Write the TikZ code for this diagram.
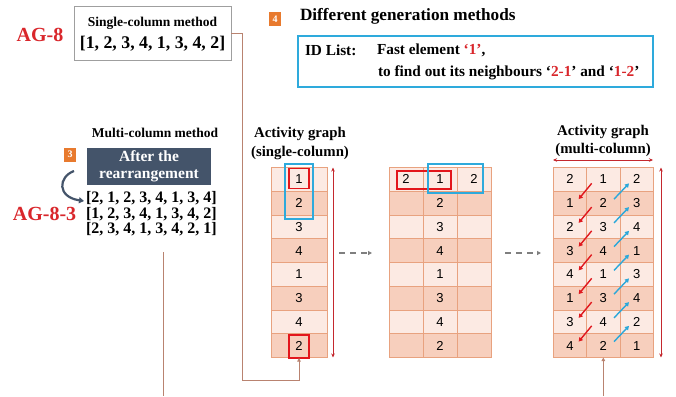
\documentclass[tikz,border=0pt]{standalone}
\usepackage{fontspec}
\setmainfont{Liberation Serif}
\newfontfamily\numfont{Liberation Sans}
\usetikzlibrary{arrows.meta,calc}
\definecolor{agred}{HTML}{D9262B}
\definecolor{lightrow}{HTML}{FCEAE3}
\definecolor{darkrow}{HTML}{F7CFBD}
\definecolor{cellborder}{HTML}{E8A27F}
\definecolor{boxred}{HTML}{E3161C}
\definecolor{boxcyan}{HTML}{2EAADC}
\definecolor{brownline}{HTML}{B98370}
\definecolor{slate}{HTML}{44546A}
\definecolor{badge}{HTML}{E87A2E}
\definecolor{dashgray}{HTML}{7F7F7F}
\definecolor{rarrow}{HTML}{E0191F}
\definecolor{carrow}{HTML}{2AA8DA}
\definecolor{dblred}{HTML}{C4282E}
\begin{document}
\begin{tikzpicture}[x=1pt,y=-1pt,
  every node/.style={inner sep=0pt, outer sep=0pt},
  cell/.style={draw=cellborder, line width=0.6pt, minimum width=#1, minimum height=23.75pt,
    font=\numfont\fontsize{13}{13}\selectfont},
  numtext/.style={font=\numfont\fontsize{13}{13}\selectfont},
  aglabel/.style={text=agred, font=\bfseries\fontsize{20}{20}\selectfont},
  listtext/.style={font=\bfseries\fontsize{16}{16}\selectfont, anchor=west},
  smalltitle/.style={font=\bfseries\fontsize{13.5}{13.5}\selectfont},
  graphtitle/.style={font=\bfseries\fontsize{14.8}{19}\selectfont, align=center},
  badgebox/.style={fill=badge, text=white, font=\bfseries\fontsize{10}{10}\selectfont, minimum width=12pt, minimum height=14pt},
  redbox/.style={draw=boxred, line width=1.5pt},
  cyanbox/.style={draw=boxcyan, line width=1.5pt},
  brown/.style={draw=brownline, line width=0.8pt},
  dasharrow/.style={draw=dashgray, line width=1.2pt, dash pattern=on 6pt off 5pt, -{Triangle[length=4pt,width=4pt]}},
  dblarrow/.style={draw=dblred, line width=0.8pt, {Stealth[length=4pt,width=3.5pt]}-{Stealth[length=4pt,width=3.5pt]}},
  redarrow/.style={draw=rarrow, line width=1.4pt, -{Triangle[length=4pt,width=4.5pt]}},
  cyanarrow/.style={draw=carrow, line width=1.4pt, -{Triangle[length=4pt,width=4.5pt]}},
  idtext/.style={font=\bfseries\fontsize{15.3}{15.3}\selectfont, anchor=west}
]
\useasboundingbox (0,0) rectangle (676,396);
\fill[white] (0,0) rectangle (676,396);

% ---------- AG-8 single-column box ----------
\node[aglabel] (ag8) at (40,35) {AG-8};
\node[draw=gray!75, line width=0.8pt, minimum width=157pt, minimum height=54pt] (ag8box) at (152.5,33) {};
\node[smalltitle] (ag8title) at (152.5,23) {Single-column method};
\node[font=\bfseries\fontsize{17.8}{17.8}\selectfont] (ag8list) at (152.5,44) {[1, 2, 3, 4, 1, 3, 4, 2]};

% ---------- Section 4 ----------
\node[badgebox] (b4) at (275,19.5) {4};
\node[font=\bfseries\fontsize{17.2}{17.2}\selectfont, anchor=west] (t4) at (300,16) {Different generation methods};
\node[draw=boxcyan, line width=1.3pt, minimum width=355pt, minimum height=51pt] (idbox) at (475.5,61.5) {};
\node[idtext] (idl) at (305,50) {ID List:};
\node[idtext] (idl1) at (377,50) {Fast element \textcolor{agred}{‘1’},};
\node[idtext] (idl2) at (378,73) {to find out its neighbours ‘\textcolor{agred}{2-1}’ and ‘\textcolor{agred}{1-2}’};

% ---------- Multi-column method ----------
\node[smalltitle] (mtitle) at (155,133) {Multi-column method};
\node[badgebox] (b3) at (70,154.5) {3};
\node[fill=slate, text=white, minimum width=124pt, minimum height=37pt, align=center,
  font=\bfseries\fontsize{15.5}{17}\selectfont] (rearr) at (149,166.5) {After the\\rearrangement};
\node[listtext] (l1) at (86,198.5) {[2, 1, 2, 3, 4, 1, 3, 4]};
\node[listtext] (l2) at (86,214) {[1, 2, 3, 4, 1, 3, 4, 2]};
\node[listtext] (l3) at (86,229.5) {[2, 3, 4, 1, 3, 4, 2, 1]};
\node[aglabel] (ag83) at (44.5,214) {AG-8-3};
\coordinate (cs) at (74,171);
\coordinate (ce) at (84,201);
\draw[slate, line width=2.2pt, -{Triangle[length=5pt,width=6pt]}] (cs) .. controls (58,177) and (57,197) .. (ce);

% ---------- single-column table ----------
\node[graphtitle] (stitle) at (300,143) {Activity graph\\(single-column)};
\foreach \v [count=\i] in {1,2,3,4,1,3,4,2} {
  \pgfmathsetmacro\yy{167.5+(\i-0.5)*23.75}
  \ifodd\i \def\fc{lightrow}\else\def\fc{darkrow}\fi
  \node[cell=56pt, fill=\fc] (s\i) at (299,\yy) {\v};
}
\node[redbox, minimum width=20pt, minimum height=20pt] (sr1) at (299,178.5) {};
\node[redbox, minimum width=20pt, minimum height=23pt] (sr8) at (299,346.5) {};
\node[cyanbox, minimum width=28pt, minimum height=55pt] (sc) at (299,191.5) {};
\coordinate (sd1) at (333,167.5);
\coordinate (sd2) at (333,357.5);
\draw[dblarrow] (sd1) -- (sd2);

% ---------- middle table ----------
\foreach \v [count=\i] in {1,2,3,4,1,3,4,2} {
  \pgfmathsetmacro\yy{167.5+(\i-0.5)*23.75}
  \ifodd\i \def\fc{lightrow}\else\def\fc{darkrow}\fi
  \node[cell=34pt, fill=\fc] (m\i a) at (406,\yy) {};
  \node[cell=34pt, fill=\fc] (m\i b) at (440,\yy) {\v};
  \node[cell=34pt, fill=\fc] (m\i c) at (474,\yy) {};
}
\node[numtext] (m1at) at (m1a) {2};
\node[numtext] (m1ct) at (m1c) {2};
\node[redbox, minimum width=54pt, minimum height=18pt] (mr) at (424,180) {};
\node[cyanbox, minimum width=55pt, minimum height=29pt] (mc) at (455.5,178.5) {};

% ---------- right table ----------
\node[graphtitle, font=\bfseries\fontsize{14.8}{18}\selectfont] (rtitle) at (603,141) {Activity graph\\(multi-column)};
\foreach \a/\b/\c [count=\i] in {2/1/2,1/2/3,2/3/4,3/4/1,4/1/3,1/3/4,3/4/2,4/2/1} {
  \pgfmathsetmacro\yy{167.5+(\i-0.5)*23.75}
  \ifodd\i \def\fc{lightrow}\else\def\fc{darkrow}\fi
  \node[cell=33.33pt, fill=\fc] (r-\i-1) at (570,\yy) {\a};
  \node[cell=33.33pt, fill=\fc] (r-\i-2) at (603.33,\yy) {\b};
  \node[cell=33.33pt, fill=\fc] (r-\i-3) at (636.67,\yy) {\c};
}
\foreach \i in {1,...,7} {
  \pgfmathtruncatemacro\j{\i+1}
  \draw[redarrow] ($(r-\i-2.west)+(5,4)$) -- ($(r-\j-1.east)+(-8,-4)$);
  \draw[cyanarrow] ($(r-\j-3.west)+(-6,-4)$) -- ($(r-\i-3.west)+(9,4)$);
}
\coordinate (rh1) at (553,160);
\coordinate (rh2) at (653,160);
\draw[dblarrow] (rh1) -- (rh2);
\coordinate (rv1) at (661,167.5);
\coordinate (rv2) at (661,357.5);
\draw[dblarrow] (rv1) -- (rv2);

% ---------- dashed arrows ----------
\coordinate (d1s) at (339,253);
\coordinate (d1e) at (372,253);
\draw[dasharrow] (d1s) -- (d1e);
\coordinate (d2s) at (505,253);
\coordinate (d2e) at (541,253);
\draw[dasharrow] (d2s) -- (d2e);

% ---------- brown connectors ----------
\coordinate (bc1) at (242,380);
\draw[brown, -{Triangle[length=3.5pt,width=3.5pt]}] (ag8box.east) -| (bc1) -| (sr8.south);
\coordinate (bl1) at (163,252);
\coordinate (bl2) at (163,396);
\draw[brown] (bl1) -- (bl2);
\coordinate (br1) at (603.33,396);
\draw[brown, -{Triangle[length=3.5pt,width=3.5pt]}] (br1) -- (r-8-2.south);
\end{tikzpicture}
\end{document}
